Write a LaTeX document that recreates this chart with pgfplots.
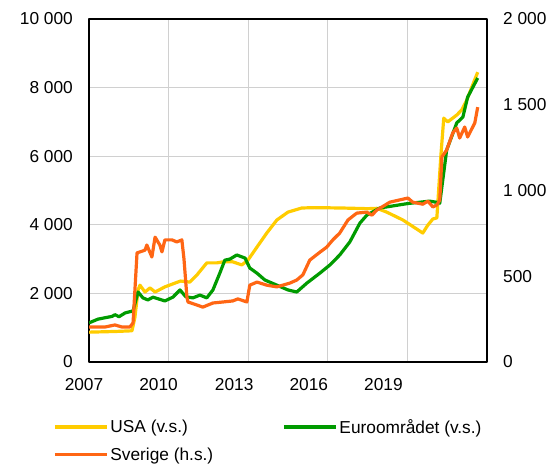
\documentclass[border=0pt]{standalone}
\usepackage{pgfplots}
\pgfplotsset{compat=1.18}
\usepackage{fontspec}
\setmainfont{Liberation Sans}
\definecolor{usa}{RGB}{255,204,0}
\definecolor{euro}{RGB}{0,155,0}
\definecolor{swe}{RGB}{255,102,20}
\definecolor{gridc}{RGB}{208,208,208}
\newcommand{\lblfont}{\fontsize{17.3}{20}\selectfont}
\begin{document}
\begin{tikzpicture}
\useasboundingbox (0,0) rectangle (553pt,465pt);
\begin{axis}[
  at={(89pt,103pt)}, anchor=south west,
  width=398pt, height=343pt, scale only axis,
  xmin=2007, xmax=2022, ymin=0, ymax=10000,
  scaled ticks=false,
  axis line style={line width=1.5pt, black},
  major tick length=0pt,
  xtick={2007,2010,2013,2016,2019},
  xticklabels={\makebox[0pt]{2007\hspace*{10pt}},\makebox[0pt]{2010\hspace*{20pt}},\makebox[0pt]{2013\hspace*{28pt}},\makebox[0pt]{2016\hspace*{38pt}},\makebox[0pt]{2019\hspace*{48pt}}},
  xmajorgrids,
  ytick={0,2000,4000,6000,8000,10000},
  yticklabels={0,{2 000},{4 000},{6 000},{8 000},{10 000}},
  ymajorgrids,
  major grid style={gridc, line width=1pt},
  tick label style={font=\lblfont, inner sep=0pt},
  yticklabel style={anchor=east, xshift=-16pt},
  xticklabel style={anchor=north, yshift=-16pt},
  line join=round,
]
\addplot[usa, line width=3.2pt] coordinates {
(2007.00,870) (2007.50,880) (2008.00,890) (2008.62,910) (2008.73,1300)
(2008.85,2100) (2008.92,2240) (2009.11,2040) (2009.30,2160) (2009.49,2040)
(2009.86,2190) (2010.24,2300) (2010.45,2360) (2010.80,2330) (2011.07,2540)
(2011.44,2890) (2011.82,2890) (2012.05,2920) (2012.42,2920) (2012.76,2830)
(2012.99,2970) (2013.33,3350) (2013.70,3760) (2014.08,4140) (2014.50,4370)
(2015.02,4490) (2015.50,4500) (2016.50,4490) (2017.50,4470) (2017.85,4480)
(2018.22,4370) (2018.83,4140) (2019.58,3760) (2019.77,3990) (2019.96,4170)
(2020.11,4200) (2020.26,6000) (2020.37,7110) (2020.52,7000) (2020.86,7200)
(2021.05,7350) (2021.24,7640) (2021.43,8020) (2021.65,8450)
};
\addplot[euro, line width=3.2pt] coordinates {
(2007.00,1140) (2007.34,1250) (2007.87,1330) (2007.98,1380) (2008.13,1320)
(2008.36,1430) (2008.66,1490) (2008.85,2040) (2009.03,1870) (2009.22,1810)
(2009.41,1890) (2009.86,1780) (2010.16,1890) (2010.43,2100) (2010.65,1900)
(2010.92,1870) (2011.18,1950) (2011.44,1870) (2011.67,2100) (2011.93,2590)
(2012.12,2970) (2012.31,3000) (2012.57,3120) (2012.88,3030) (2013.06,2740)
(2013.33,2590) (2013.63,2390) (2014.08,2240) (2014.50,2100) (2014.83,2040)
(2015.21,2300) (2015.70,2590) (2016.08,2830) (2016.45,3120) (2016.83,3500)
(2017.21,4050) (2017.47,4280) (2017.96,4490) (2019.02,4620) (2019.84,4690)
(2020.15,4650) (2020.22,4630) (2020.48,6180) (2020.86,6970) (2021.09,7140)
(2021.27,7720) (2021.65,8280)
};
\end{axis}
\begin{axis}[
  at={(89pt,103pt)}, anchor=south west,
  width=398pt, height=343pt, scale only axis,
  xmin=2007, xmax=2022, ymin=0, ymax=2000,
  scaled ticks=false,
  axis x line=none, axis y line*=right,
  axis line style={line width=1.5pt, black},
  major tick length=0pt,
  ytick={0,500,1000,1500,2000},
  yticklabels={0,500,{1 000},{1 500},{2 000}},
  tick label style={font=\lblfont, inner sep=0pt},
  yticklabel style={anchor=west, xshift=16pt},
  line join=round,
  legend columns=2,
  legend cell align=left,
  legend style={at={(-0.098,-0.155)}, anchor=north west, draw=none, fill=none,
    font=\lblfont, row sep=9pt,
    /tikz/every even column/.append style={column sep=67pt}},
  legend image code/.code={\draw[#1, line width=3.2pt] (0pt,0pt) -- (52pt,0pt);},
]
\addlegendimage{usa}
\addlegendentry{USA (v.s.)}
\addlegendimage{euro}
\addlegendentry{Euroområdet (v.s.)}
\addplot[swe, line width=3.2pt] coordinates {
(2007.00,204) (2007.60,204) (2007.98,216) (2008.24,204) (2008.54,204)
(2008.66,228) (2008.81,636) (2008.92,642) (2009.11,652) (2009.18,682)
(2009.37,612) (2009.49,728) (2009.67,682) (2009.75,642) (2009.86,712)
(2010.13,712) (2010.31,700) (2010.50,712) (2010.58,600) (2010.69,378)
(2010.73,350) (2011.07,332) (2011.29,320) (2011.67,344) (2012.05,350)
(2012.42,356) (2012.61,368) (2012.95,350) (2013.06,448) (2013.33,466)
(2013.70,448) (2014.08,438) (2014.57,460) (2014.83,478) (2015.06,508)
(2015.32,594) (2015.70,640) (2015.96,670) (2016.19,712) (2016.45,752)
(2016.76,828) (2017.09,868) (2017.47,874) (2017.66,856) (2017.85,886)
(2018.34,932) (2019.02,956) (2019.20,932) (2019.58,920) (2019.77,938)
(2019.96,904) (2020.11,916) (2020.22,944) (2020.30,1196) (2020.48,1236)
(2020.71,1336) (2020.86,1364) (2020.97,1306) (2021.16,1370) (2021.27,1312)
(2021.54,1394) (2021.65,1486)
};
\addlegendentry{Sverige (h.s.)}
\end{axis}
\end{tikzpicture}
\end{document}
